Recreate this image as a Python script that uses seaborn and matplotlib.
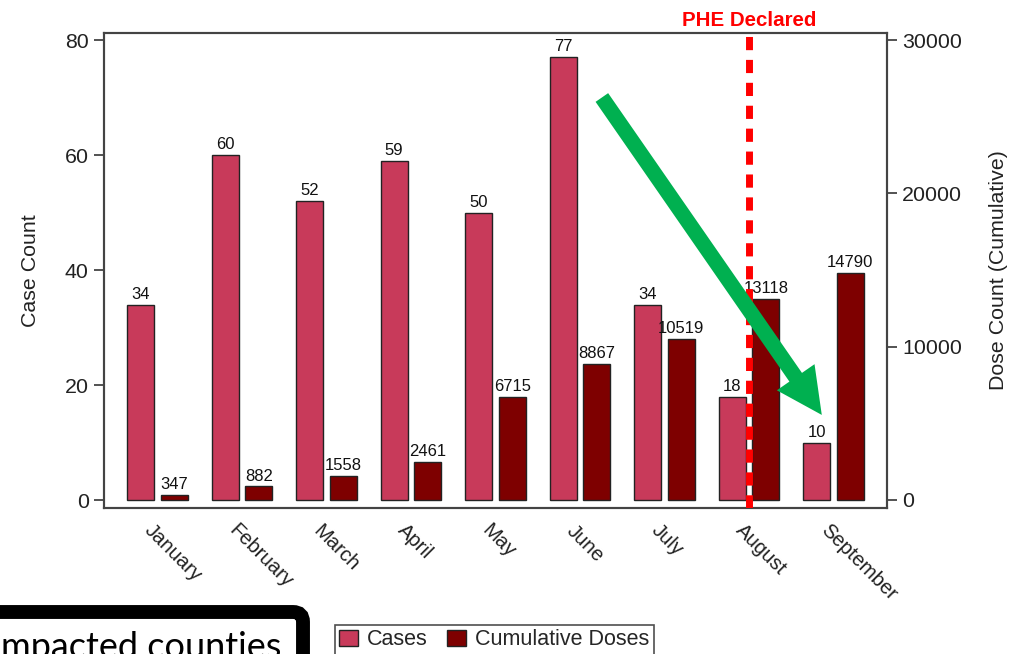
import matplotlib
matplotlib.use("Agg")
import matplotlib.pyplot as plt
import matplotlib.transforms as mtransforms
from matplotlib.patches import FancyArrowPatch, FancyBboxPatch, Patch
import numpy as np
import pandas as pd
import seaborn as sns

# Monthly data
months = ["January", "February", "March", "April", "May", "June", "July", "August", "September"]
cases = [34, 60, 52, 59, 50, 77, 34, 18, 10]
cumulative_doses = [347, 882, 1558, 2461, 6715, 8867, 10519, 13118, 14790]
series_names = ["Cases", "Cumulative Doses"]
series_colors = ["#C83A5A", "#7E0000"]
declared_month = "August"

sns.set_style("white")
plt.rcParams["font.family"] = ["Liberation Sans", "DejaVu Sans"]

cases_df = pd.DataFrame({"month": months, "value": cases, "series": series_names[0]})
doses_df = pd.DataFrame({"month": months, "value": cumulative_doses, "series": series_names[1]})
palette = dict(zip(series_names, series_colors))

W, H = 1014, 654
fig = plt.figure(figsize=(W / 100, H / 100), dpi=100)
ax = fig.add_axes([104 / W, 1 - 508 / H, (887 - 104) / W, (508 - 33) / H])
ax2 = ax.twinx()

bar_kw = dict(x="month", y="value", hue="series", hue_order=series_names, order=months,
              palette=palette, width=0.8, gap=0.2, dodge=True, legend=False,
              edgecolor="#222222", linewidth=1.0, saturation=1, errorbar=None)
sns.barplot(data=cases_df, ax=ax, **bar_kw)
sns.barplot(data=doses_df, ax=ax2, **bar_kw)

label_kw = dict(fontsize=12, padding=2, color="#111111")
for c in ax.containers:
    ax.bar_label(c, fmt="{:.0f}", **label_kw)
for c in ax2.containers:
    ax2.bar_label(c, fmt="{:.0f}", **label_kw)

# Axis limits
ax.set_xlim(-0.633, len(months) - 1 + 0.633)
ax.set_ylim(-1.39, 81.22)
ax2.set_ylim(-522, 30457)
ax.set_yticks([0, 20, 40, 60, 80])
ax2.set_yticks([0, 10000, 20000, 30000])

ax.set_xlabel("")
ax.set_ylabel("Case Count", fontsize=15.4, labelpad=18, color="#222222")
ax2.set_ylabel("Dose Count (Cumulative)", fontsize=15.4, labelpad=19, color="#222222")
ax2.set_xlabel("")

for a in (ax, ax2):
    for s in a.spines.values():
        s.set_color("#444444")
        s.set_linewidth(1.5)
    a.tick_params(axis="y", labelsize=15.4, length=7, width=1.3, color="#444444",
                  labelcolor="#222222", pad=4)
ax.tick_params(axis="y", left=True, right=False, direction="out")
ax2.tick_params(axis="y", right=True, left=False, direction="out")
ax.tick_params(axis="x", bottom=False, labelsize=14.6, labelcolor="#222222", pad=2)

ax.set_xticks(range(len(months)))
ax.set_xticklabels(months, rotation=-45, ha="left", va="center", rotation_mode="anchor")
shift = mtransforms.ScaledTranslation(-10 / 100, -12 / 100, fig.dpi_scale_trans)
for lab in ax.get_xticklabels():
    lab.set_transform(lab.get_transform() + shift)

# Public health emergency marker
x_decl = months.index(declared_month)
ax2.axvline(x_decl, color="#FF0000", linewidth=5, linestyle=(0, (1.9, 1.4)), zorder=5)
ax.set_title("PHE Declared", color="#FF0000", fontsize=14.8, fontweight="bold",
             x=(x_decl + 0.633) / (len(months) - 1 + 2 * 0.633), pad=5)

# Downward trend arrow
arrow = FancyArrowPatch((5.24, 70.4), (7.88, 14.4), transform=ax.transData,
                        arrowstyle="simple,head_length=33,head_width=33,tail_width=11",
                        mutation_scale=1, color="#00B050", linewidth=0, zorder=6)
ax2.add_patch(arrow)

# Legend
handles = [Patch(facecolor=col, edgecolor="#222222", linewidth=1) for col in series_colors]
leg = fig.legend(handles, series_names, loc="upper left", bbox_to_anchor=(335 / W, 1 - 625 / H),
                 ncol=2, fontsize=15.5, frameon=True, fancybox=False, edgecolor="#222222",
                 handlelength=0.85, handleheight=0.75, handletextpad=0.45, columnspacing=0.9,
                 borderpad=0.2, borderaxespad=0)
leg.get_frame().set_linewidth(1.2)

# Callout box in lower-left corner
ident = mtransforms.IdentityTransform()
box = FancyBboxPatch((-30, -40), 333, 82, boxstyle="round,pad=0,rounding_size=10",
                     facecolor="white", edgecolor="black", linewidth=10, transform=ident)
fig.patches.append(box)
fig.text(281, -4, "Impacted counties", transform=ident, ha="right", va="baseline",
         fontsize=26, family=["Lato", "DejaVu Sans"], color="black")

fig.savefig("out.png", dpi=100)
